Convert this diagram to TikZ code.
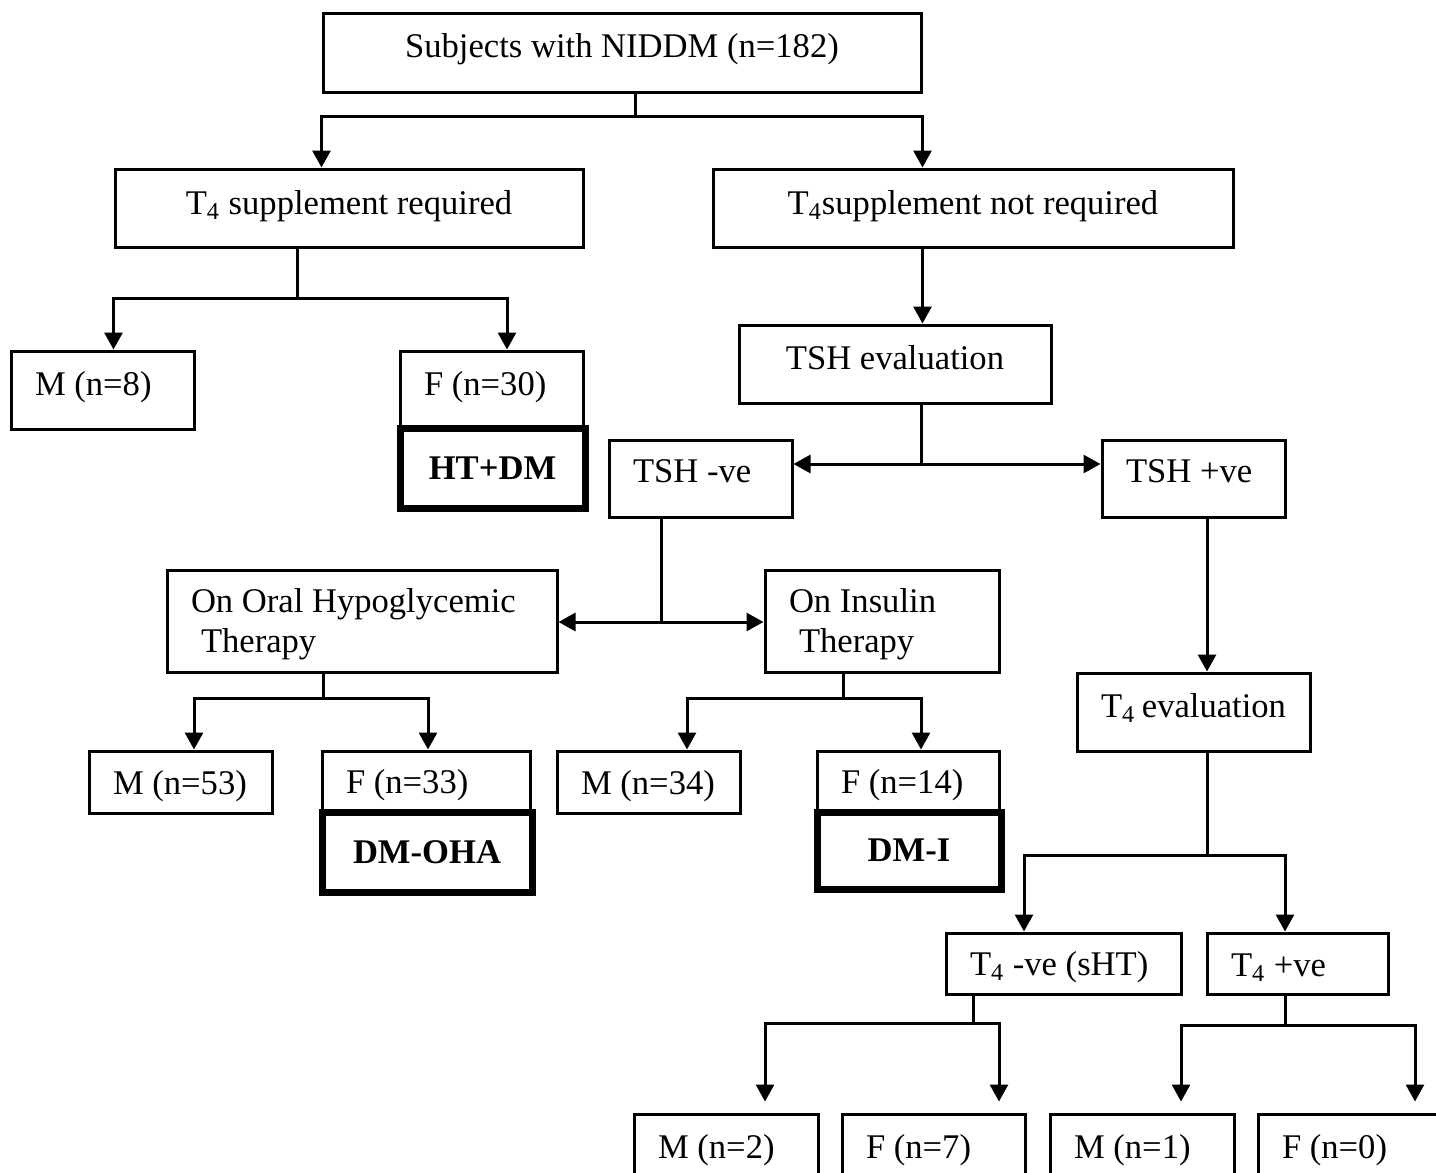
\documentclass[tikz,border=0pt]{standalone}
\usepackage{fontspec}
\setmainfont{Liberation Serif}
\usetikzlibrary{arrows.meta}
\begin{document}
\begin{tikzpicture}[x=0.5pt,y=-0.5pt,
  box/.style={draw, line width=1.5pt, inner ysep=0pt, font=\fontsize{17.3}{20}\selectfont},
  cbox/.style={box, align=center},
  lbox/.style={box, align=flush left, inner xsep=12pt},
  boldbox/.style={draw, line width=3.5pt, inner sep=0pt, align=center, font=\fontsize{17.3}{20}\selectfont\bfseries},
  up/.style={text depth=#1},
  down/.style={text height=#1},
  conn/.style={line width=1.5pt},
  arr/.style={conn, -{Triangle[width=9pt,length=8.5pt]}},
  darr/.style={conn, {Triangle[width=9pt,length=8.5pt]}-{Triangle[width=9pt,length=8.5pt]}}]
\fill[white] (0,0) rectangle (1436,1173);
\useasboundingbox (0,0) rectangle (1436,1173);
\clip (0,0) rectangle (1436,1173);

% boxes
\node[cbox, up=7pt, minimum width=299pt, minimum height=39.5pt] (top) at (622,52.5) {Subjects with NIDDM (n=182)};
\node[cbox, up=6pt, minimum width=234pt, minimum height=39pt] (req) at (349,208) {T\textsubscript{4} supplement required};
\node[cbox, up=6pt, minimum width=260pt, minimum height=39pt] (nreq) at (973,208) {T\textsubscript{4}supplement not required};
\node[lbox, up=6.5pt, text width=67.5pt, minimum height=39pt] (m8) at (102.5,390) {M (n=8)};
\node[lbox, up=6.5pt, text width=67.5pt, minimum height=38.5pt] (f30) at (491.5,389.5) {F (n=30)};
\node[boldbox, minimum width=92.5pt, minimum height=40pt] (htdm) at (492.5,468) {HT+DM};
\node[cbox, up=7pt, minimum width=156pt, minimum height=39pt] (tsheval) at (895,364) {TSH evaluation};
\node[lbox, up=7pt, text width=67.5pt, minimum height=38.5pt] (tshneg) at (700.5,478.5) {TSH -ve};
\node[lbox, up=7pt, text width=67.5pt, minimum height=38.5pt] (tshpos) at (1193.5,478.5) {TSH +ve};
\node[lbox, down=15.5pt, text width=171pt, minimum height=51pt] (oht) at (362,621) {On Oral Hypoglycemic\\\hspace*{5pt}Therapy};
\node[lbox, down=15.5pt, text width=93pt, minimum height=51pt] (ins) at (882,621) {On Insulin\\\hspace*{5pt}Therapy};
\node[lbox, up=7pt, text width=92.5pt, minimum height=39pt] (t4eval) at (1193.5,712) {T\textsubscript{4}~evaluation};
\node[lbox, down=16pt, text width=67.5pt, minimum height=31pt] (m53) at (180.5,782) {M (n=53)};
\node[lbox, down=16pt, text width=80pt, minimum height=30.5pt] (f33) at (426,781.5) {F (n=33)};
\node[boldbox, minimum width=105pt, minimum height=40pt] (dmoha) at (427,852) {DM-OHA};
\node[lbox, down=16pt, text width=67.5pt, minimum height=31pt] (m34) at (648.5,782) {M (n=34)};
\node[lbox, down=16pt, text width=67pt, minimum height=30.5pt] (f14) at (908,781.5) {F (n=14)};
\node[boldbox, minimum width=92pt, minimum height=38.5pt] (dmi) at (909,850.5) {DM-I};
\node[lbox, down=15.5pt, text width=93.5pt, minimum height=30.5pt] (t4neg) at (1063.5,963.5) {T\textsubscript{4} -ve (sHT)};
\node[lbox, down=15.5pt, text width=66.5pt, minimum height=30.5pt] (t4pos) at (1297.5,963.5) {T\textsubscript{4} +ve};
\node[lbox, down=14.5pt, text width=68pt, minimum height=34pt] (m2) at (726,1148) {M (n=2)};
\node[lbox, down=14.5pt, text width=67.5pt, minimum height=34pt] (f7) at (933.5,1148) {F (n=7)};
\node[lbox, down=14.5pt, text width=68pt, minimum height=34pt] (m1) at (1142,1148) {M (n=1)};
\node[lbox, down=14.5pt, text width=68pt, minimum height=34pt] (f0) at (1350,1148) {F (n=0)};

% connectors
\coordinate (j1) at (635,116);
\draw[conn] (top.south -| j1) -- (j1);
\draw[arr] (j1) -| (req.north -| top.west);
\draw[arr] (j1) -| (nreq.north -| top.east);

\coordinate (j2) at (297,298);
\coordinate (j2r) at (507,298);
\draw[conn] (req.south -| j2) -- (j2);
\draw[arr] (j2) -| (m8.north -| req.west);
\draw[arr] (j2) -| (f30.north -| j2r);

\draw[arr] (nreq.south -| top.east) -- (tsheval.north -| top.east);

\coordinate (j4) at (921,464);
\draw[conn] (tsheval.south -| j4) -- (j4);
\draw[darr] (tshneg.east |- j4) -- (tshpos.west |- j4);

\coordinate (j5) at (661,622);
\draw[conn] (tshneg.south -| j5) -- (j5);
\draw[darr] (oht.east |- j5) -- (ins.west |- j5);

\coordinate (c6) at (1207,600);
\draw[arr] (tshpos.south -| c6) -- (t4eval.north -| c6);

\coordinate (j7) at (323,698);
\coordinate (j7l) at (194,698);
\coordinate (j7r) at (428,698);
\draw[conn] (oht.south -| j7) -- (j7);
\draw[arr] (j7) -| (m53.north -| j7l);
\draw[arr] (j7) -| (f33.north -| j7r);

\coordinate (j8) at (843,698);
\coordinate (j8l) at (687,698);
\coordinate (j8r) at (921,698);
\draw[conn] (ins.south -| j8) -- (j8);
\draw[arr] (j8) -| (m34.north -| j8l);
\draw[arr] (j8) -| (f14.north -| j8r);

\coordinate (j9) at (1207,855);
\coordinate (j9l) at (1024,855);
\coordinate (j9r) at (1285,855);
\draw[conn] (t4eval.south -| j9) -- (j9);
\draw[arr] (j9) -| (t4neg.north -| j9l);
\draw[arr] (j9) -| (t4pos.north -| j9r);

\coordinate (j10) at (973,1023);
\coordinate (j10l) at (765,1023);
\coordinate (j10r) at (999,1023);
\draw[conn] (t4neg.south -| j10) -- (j10);
\draw[arr, shorten >=5.5pt] (j10) -| (m2.north -| j10l);
\draw[arr, shorten >=5.5pt] (j10) -| (f7.north -| j10r);

\coordinate (j11) at (1285,1025);
\coordinate (j11l) at (1181,1025);
\coordinate (j11r) at (1415,1025);
\draw[conn] (t4pos.south -| j11) -- (j11);
\draw[arr, shorten >=5.5pt] (j11) -| (m1.north -| j11l);
\draw[arr, shorten >=5.5pt] (j11) -| (f0.north -| j11r);
\end{tikzpicture}
\end{document}
